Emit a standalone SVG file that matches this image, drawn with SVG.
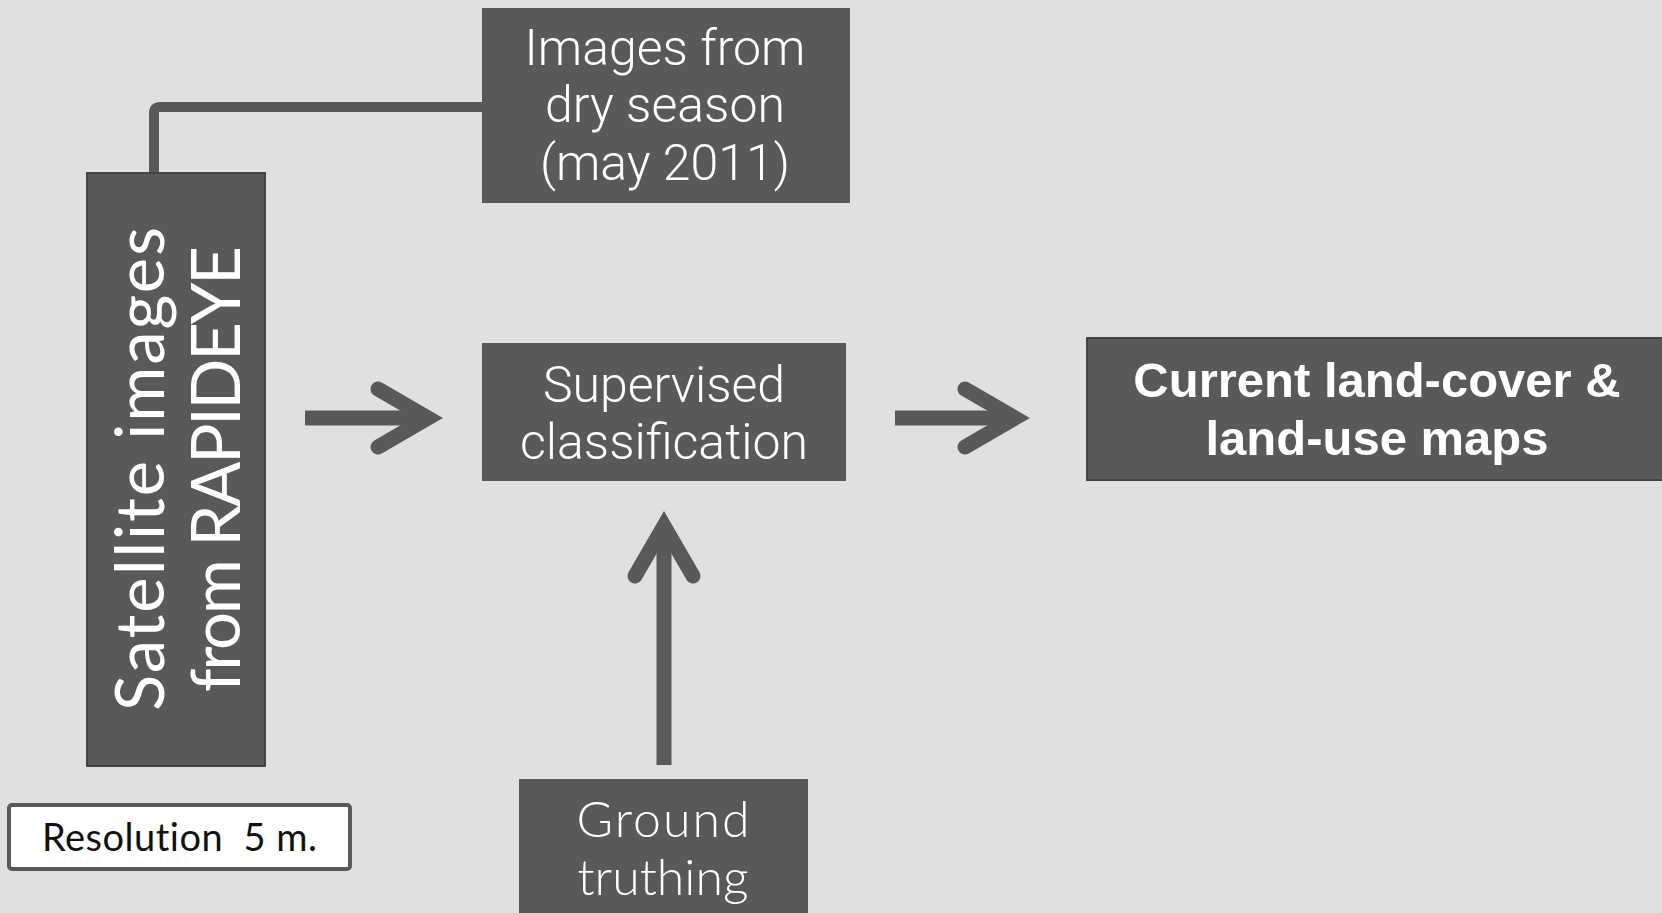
<svg xmlns="http://www.w3.org/2000/svg" width="1662" height="913" viewBox="0 0 1662 913">
<style>
.box{fill:#595959}
.edge{fill:#595959;stroke:#4a4242;stroke-width:2}
.light{font-family:Roboto,"Liberation Sans",sans-serif;font-weight:300;fill:#fff;text-anchor:middle}
.geo{font-family:Lato,"Liberation Sans",sans-serif;fill:#fff;text-anchor:middle;font-variant-ligatures:none}
.thin{font-weight:300}
.bold{font-family:"Liberation Sans",Arial,sans-serif;font-weight:bold;fill:#fff;text-anchor:middle}
.conn{fill:none;stroke:#595959;stroke-width:15}
</style>
<defs>
<marker id="chev" markerUnits="userSpaceOnUse" orient="auto" markerWidth="120" markerHeight="120" viewBox="-60 -60 120 120" refX="0" refY="0" overflow="visible">
<path d="M-50,-29 L0,0 L-50,29" fill="none" stroke="#595959" stroke-width="15" stroke-linecap="round" stroke-linejoin="miter"/>
</marker>
</defs>
<rect width="1662" height="913" fill="#e0e0e0"/>
<g id="connectors">
<path d="M482,107 H160 Q154,107 154,113 V176" fill="none" stroke="#595959" stroke-width="10"/>
<line class="conn" x1="305" y1="418" x2="428" y2="418" marker-end="url(#chev)"/>
<line class="conn" x1="895" y1="418" x2="1015" y2="418" marker-end="url(#chev)"/>
<line class="conn" x1="664" y1="765" x2="664" y2="526" stroke-width="16" marker-end="url(#chev)"/>
</g>
<g id="images-dry">
<rect class="box" x="482" y="8" width="368" height="195"/>
<text class="light" font-size="50" x="665" y="65">Images from</text>
<text class="light" font-size="50" x="665" y="122">dry season</text>
<text class="light" font-size="50" x="665" y="180">(may 2011)</text>
</g>
<g id="satellite">
<rect class="edge" x="87" y="173" width="178" height="593"/>
<text class="geo" font-size="67" transform="translate(164,469) rotate(-90)" textLength="484" lengthAdjust="spacing">Satellite images</text>
<text class="geo" font-size="67" transform="translate(240,469) rotate(-90)" textLength="446" lengthAdjust="spacing">from RAPIDEYE</text>
</g>
<g id="resolution">
<rect x="9" y="805" width="341" height="64" rx="3" fill="#fff" stroke="#5a5a5a" stroke-width="4"/>
<text x="42" y="851" font-family="Lato,'Liberation Sans',sans-serif" font-size="38" fill="#111" style="white-space:pre;font-variant-ligatures:none" xml:space="preserve" textLength="275" lengthAdjust="spacing">Resolution  5 m.</text>
</g>
<g id="supervised">
<rect class="box" x="482" y="343" width="364" height="138"/>
<text class="light" font-size="50" x="664" y="402">Supervised</text>
<text class="light" font-size="50" x="664" y="459">classification</text>
</g>
<g id="ground">
<rect class="box" x="519" y="779" width="289" height="140"/>
<text class="geo thin" font-size="50" x="663" y="837" textLength="173" lengthAdjust="spacing">Ground</text>
<text class="geo thin" font-size="50" x="663" y="895">truthing</text>
</g>
<g id="maps">
<rect class="edge" x="1087" y="338" width="585" height="142"/>
<text class="bold" font-size="49" x="1377" y="397">Current land-cover &amp;</text>
<text class="bold" font-size="49" x="1377" y="455">land-use maps</text>
</g>
</svg>
